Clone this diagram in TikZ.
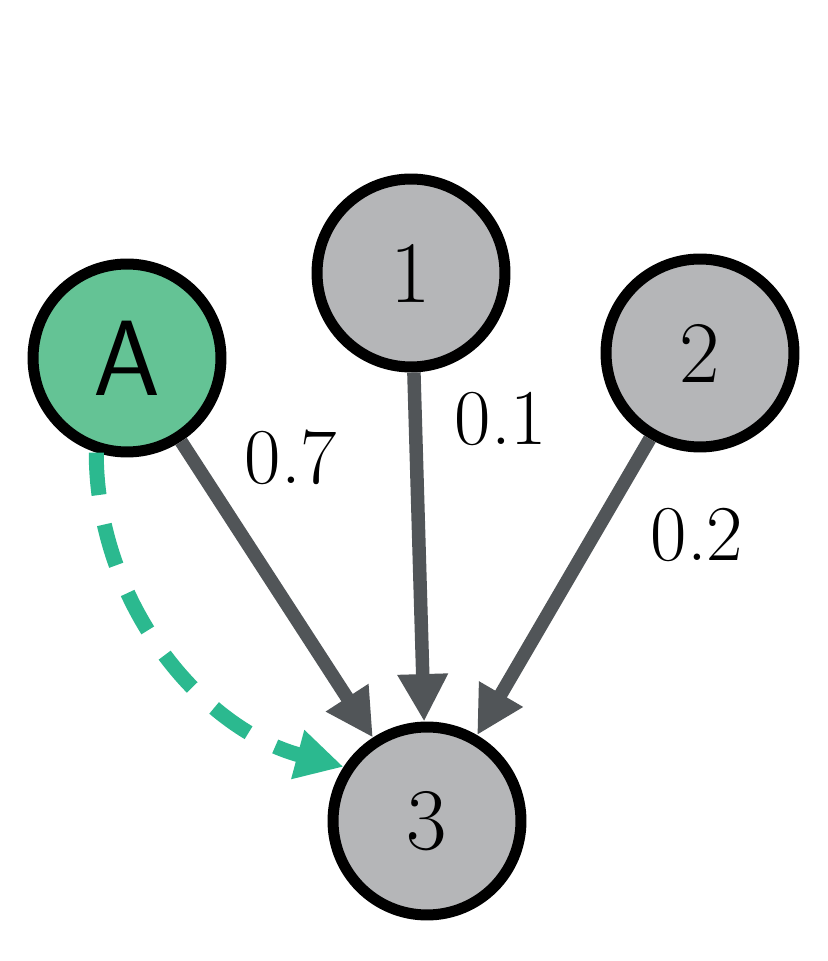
\documentclass[tikz,border=0pt]{standalone}
\usetikzlibrary{arrows.meta,positioning}
\definecolor{nodegray}{HTML}{B5B6B8}
\definecolor{nodegreen}{HTML}{64C395}
\definecolor{edgegray}{HTML}{515558}
\definecolor{walkgreen}{HTML}{2BB98F}
\begin{document}
\begin{tikzpicture}
	[x=0.02cm,y=0.02cm,
	main node/.style={shape=circle,draw,line width=0.22cm,fill=nodegray,minimum size=3.76cm,inner sep=0pt,font=\fontsize{50}{60}\selectfont},
	weight/.style={font=\fontsize{45}{54}\selectfont},
	main edge/.style={draw=edgegray,line width=0.27cm,-{Triangle[length=0.95cm,width=0.95cm]}},
	walk edge/.style={draw=walkgreen,line width=0.3cm,dash pattern=on 0.85cm off 0.6cm,-{Triangle[length=0.95cm,width=0.95cm]}}]
	\useasboundingbox (0,0) rectangle (828,961);

	\node [main node,fill=nodegreen] (A) at (127,603) {\fontsize{61}{72}\selectfont\sffamily A};
	\node [main node] (1) at (411,688) {1};
	\node [main node] (2) at (700,608) {2};
	\node [main node] (3) at (427,140) {3};

	\node [weight] (w1) at (291,504) {0.7};
	\node [weight] (w2) at (501,542) {0.1};
	\node [weight] (w3) at (697,426) {0.2};

	\path[]
	(A) edge[main edge] (3)
	(1) edge[main edge] (3)
	(2) edge[main edge] (3)
	(A.-108) edge[walk edge, out=-90, in=165, looseness=0.95] (3.147)
	;
\end{tikzpicture}
\end{document}
